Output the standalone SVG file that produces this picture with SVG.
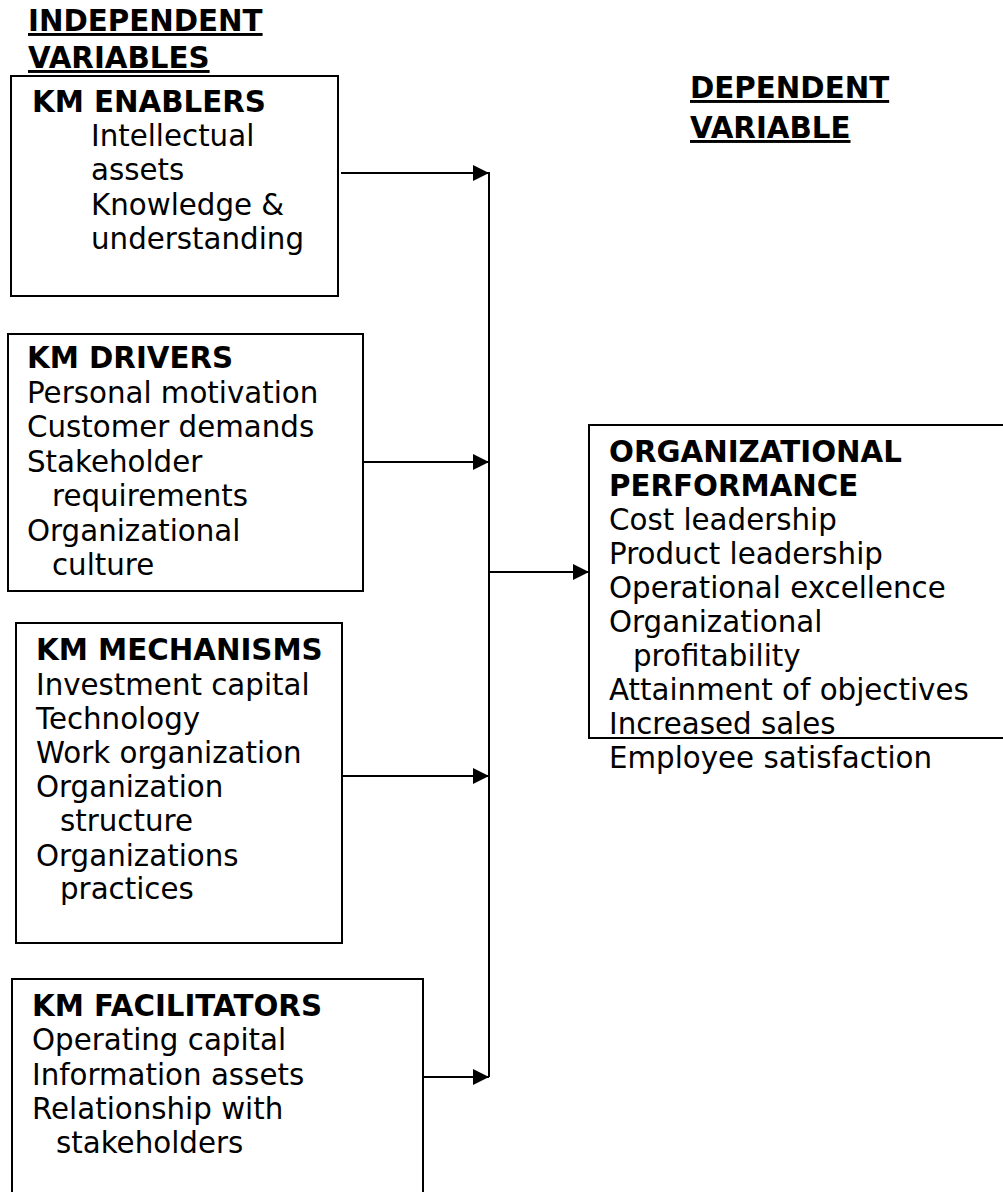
<svg xmlns="http://www.w3.org/2000/svg" width="1003" height="1192" viewBox="0 0 1003 1192">
<style>
text{font-family:"DejaVu Sans","Liberation Sans",sans-serif;font-size:29.3px;fill:#000}
.b{font-weight:bold}
.u{font-weight:bold;text-decoration:underline}
.box{fill:#fff;stroke:#000;stroke-width:2}
.con{stroke:#000;stroke-width:2;fill:none}
</style>
<defs>
<marker id="ah" markerUnits="userSpaceOnUse" markerWidth="17" markerHeight="17" refX="16" refY="8" orient="auto">
<path d="M0,0 L16,8 L0,16 z" fill="#000"/>
</marker>
</defs>
<rect width="1003" height="1192" fill="#fff"/>
<g id="headings">
<text class="u" x="28" y="31">INDEPENDENT</text>
<text class="u" x="28" y="68">VARIABLES</text>
<text class="u" x="690" y="98">DEPENDENT</text>
<text class="u" x="690" y="138">VARIABLE</text>
</g>
<g id="connectors">
<line class="con" x1="489" y1="172" x2="489" y2="1077"/>
<line class="con" x1="341" y1="173" x2="489" y2="173" marker-end="url(#ah)"/>
<line class="con" x1="363" y1="462" x2="489" y2="462" marker-end="url(#ah)"/>
<line class="con" x1="342" y1="776" x2="489" y2="776" marker-end="url(#ah)"/>
<line class="con" x1="423" y1="1077" x2="489" y2="1077" marker-end="url(#ah)"/>
<line class="con" x1="489" y1="572" x2="589" y2="572" marker-end="url(#ah)"/>
</g>
<g id="enablers">
<rect class="box" x="11" y="76" width="327" height="220"/>
<text class="b" x="32" y="112">KM ENABLERS</text>
<text x="91" y="146">Intellectual</text>
<text x="91" y="180">assets</text>
<text x="91" y="215">Knowledge &amp;</text>
<text x="91" y="249">understanding</text>
</g>
<g id="drivers">
<rect class="box" x="8" y="334" width="355" height="257"/>
<text class="b" x="27" y="368">KM DRIVERS</text>
<text x="27" y="403">Personal motivation</text>
<text x="27" y="437">Customer demands</text>
<text x="27" y="472">Stakeholder</text>
<text x="52" y="506">requirements</text>
<text x="27" y="541">Organizational</text>
<text x="52" y="575">culture</text>
</g>
<g id="mechanisms">
<rect class="box" x="16" y="623" width="326" height="320"/>
<text class="b" x="36" y="660">KM MECHANISMS</text>
<text x="36" y="695">Investment capital</text>
<text x="36" y="729">Technology</text>
<text x="36" y="763">Work organization</text>
<text x="36" y="797">Organization</text>
<text x="60" y="831">structure</text>
<text x="36" y="866">Organizations</text>
<text x="60" y="899">practices</text>
</g>
<g id="facilitators">
<rect class="box" x="12" y="979" width="411" height="240"/>
<text class="b" x="32" y="1016">KM FACILITATORS</text>
<text x="32" y="1050">Operating capital</text>
<text x="32" y="1085">Information assets</text>
<text x="32" y="1119">Relationship with</text>
<text x="56" y="1153">stakeholders</text>
</g>
<g id="performance">
<rect class="box" x="589" y="425" width="430" height="313"/>
<text class="b" x="609" y="462">ORGANIZATIONAL</text>
<text class="b" x="609" y="496">PERFORMANCE</text>
<text x="609" y="530">Cost leadership</text>
<text x="609" y="564">Product leadership</text>
<text x="609" y="598">Operational excellence</text>
<text x="609" y="632">Organizational</text>
<text x="633" y="666">profitability</text>
<text x="609" y="700">Attainment of objectives</text>
<text x="609" y="734">Increased sales</text>
<text x="609" y="768">Employee satisfaction</text>
</g>
</svg>
